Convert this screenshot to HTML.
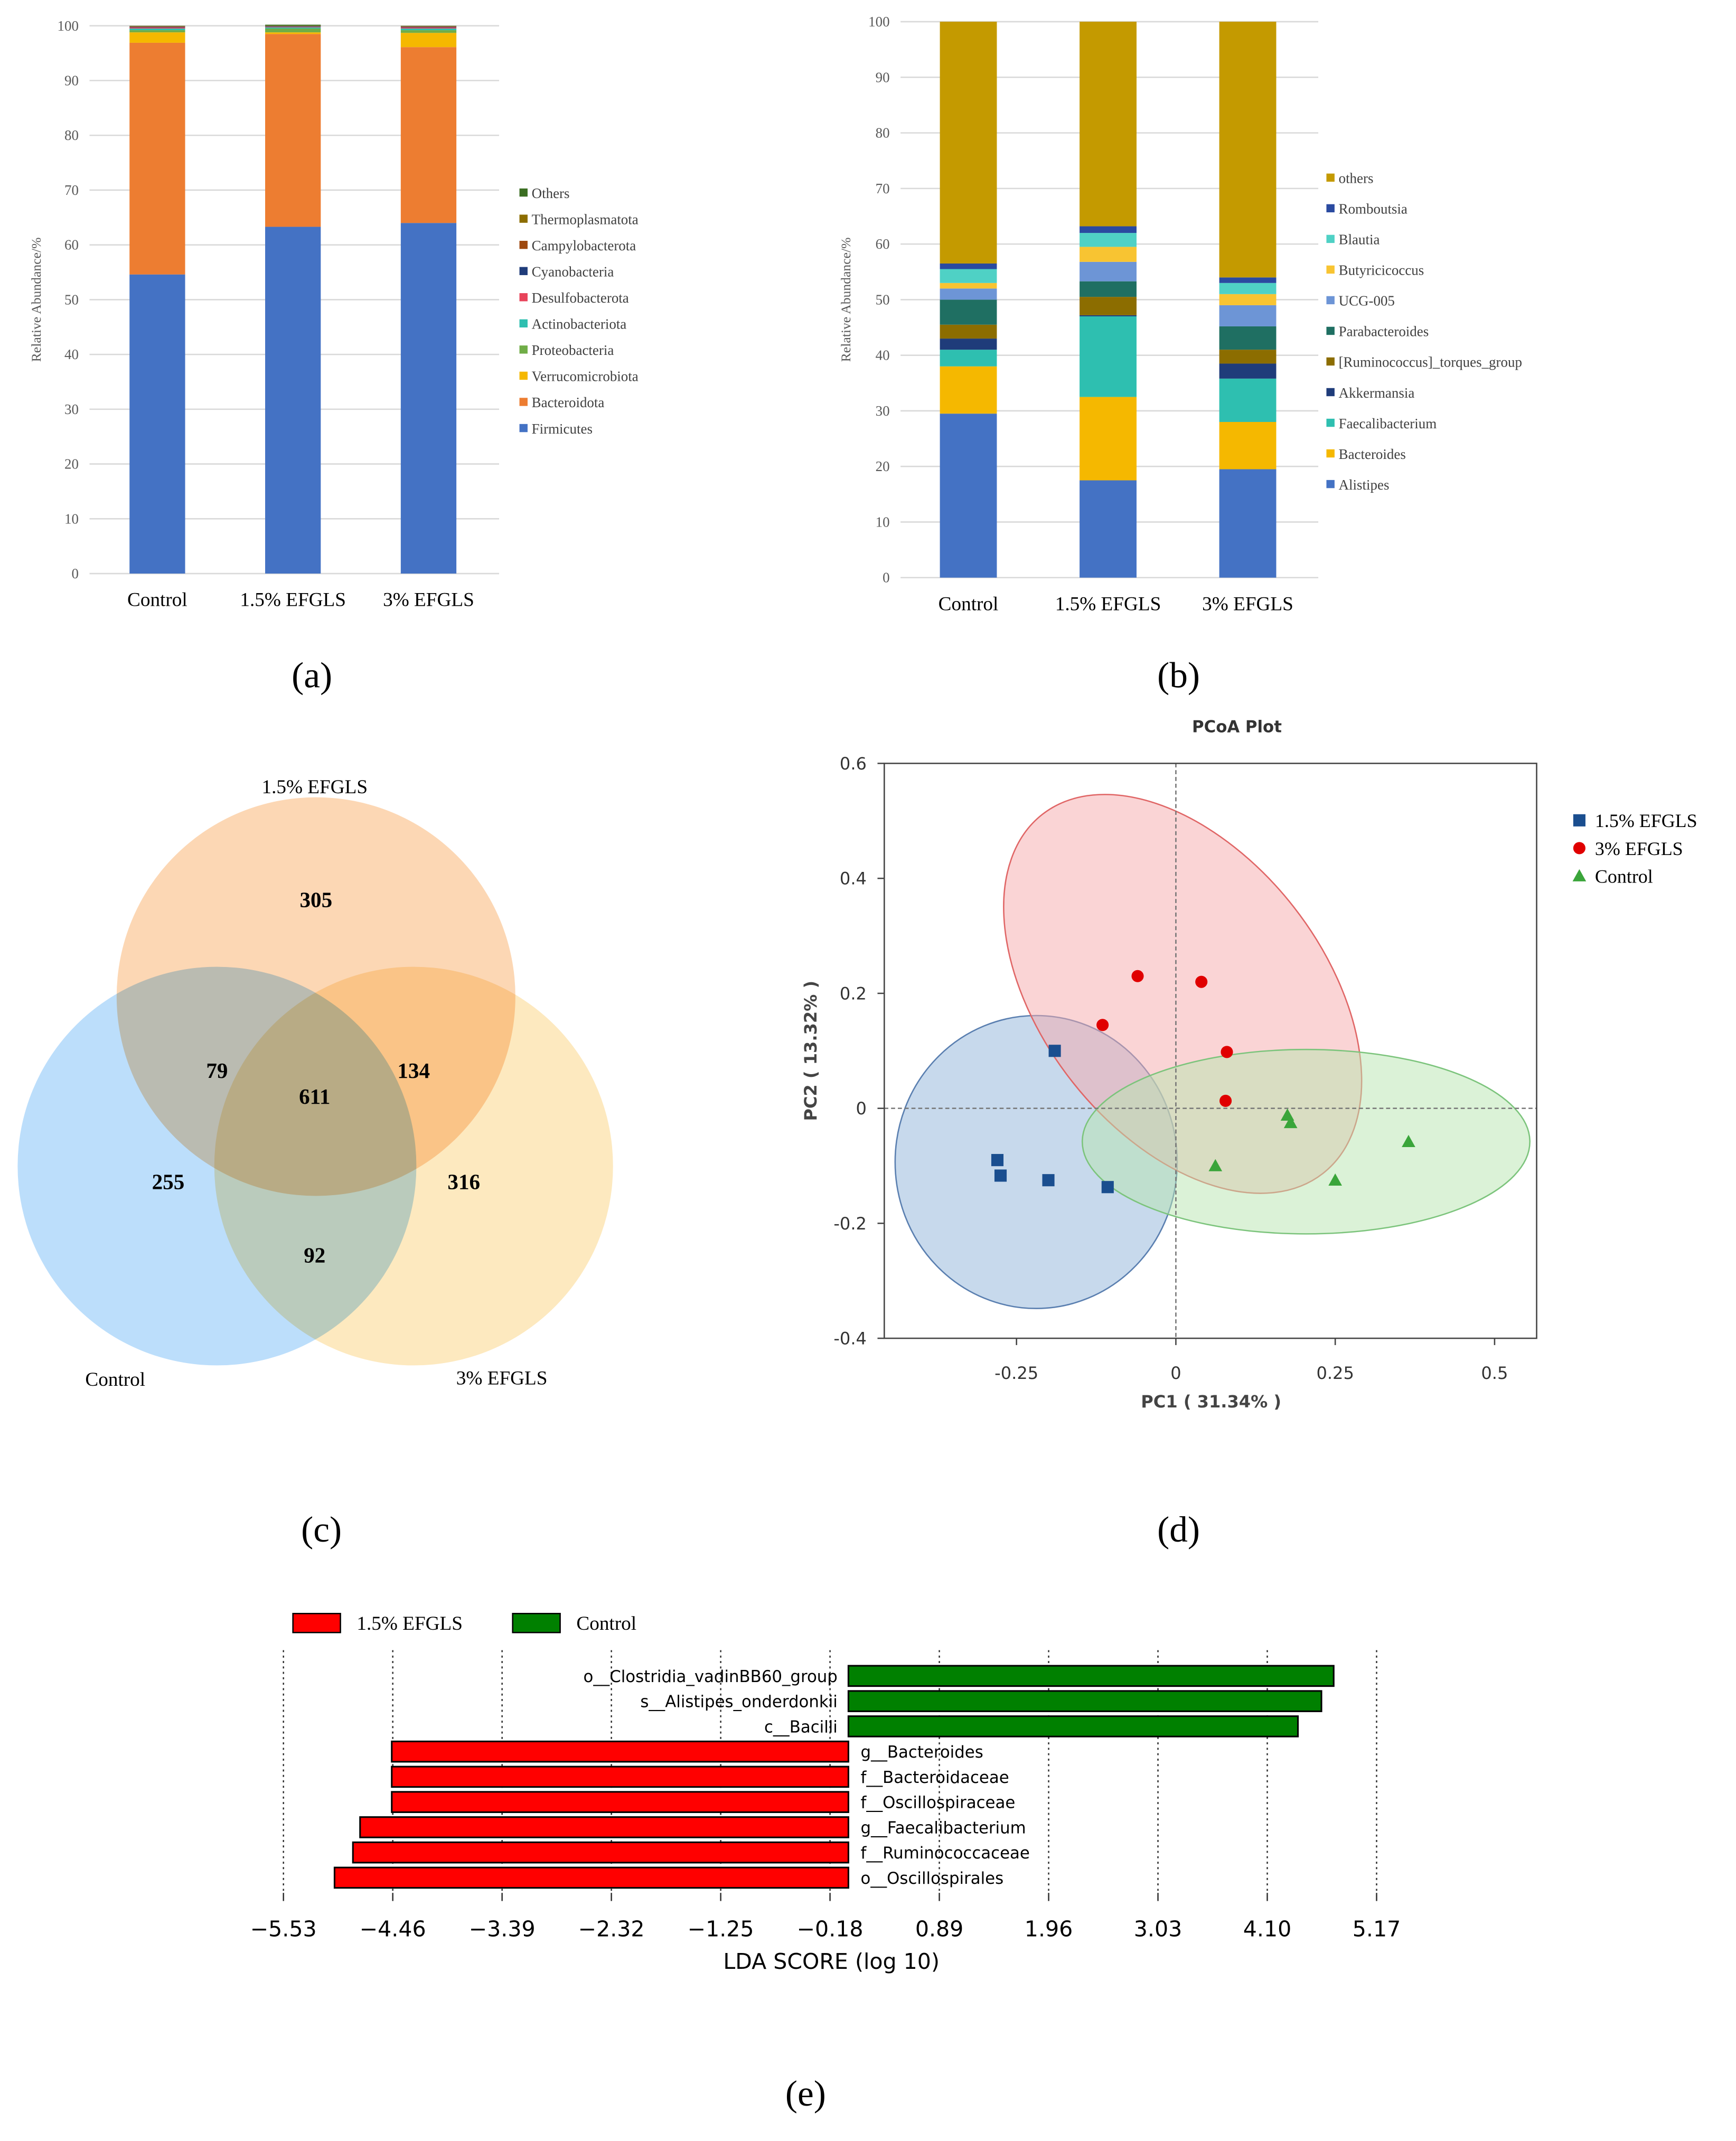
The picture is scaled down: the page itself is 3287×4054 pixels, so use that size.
<!DOCTYPE html>
<html><head><meta charset="utf-8"><style>
html,body{margin:0;padding:0;background:#fff;}
svg{display:block;}
.serif{font-family:"Liberation Serif",serif;}
.sans{font-family:"DejaVu Sans","Liberation Sans",sans-serif;}
</style></head><body>
<svg id="root" xmlns="http://www.w3.org/2000/svg" width="3287" height="4054" viewBox="0 0 1280 1579" preserveAspectRatio="none">
<rect width="1280" height="1579" fill="#fff"/>
<g id="ga"></g>
<g id="gb"></g>
<g id="gc"></g>
<g id="gd"></g>
<g id="ge"></g>
<text class="serif" x="230" y="507" font-size="27" text-anchor="middle">(a)</text>
<text class="serif" x="869" y="507" font-size="27" text-anchor="middle">(b)</text>
<text class="serif" x="237" y="1137" font-size="27" text-anchor="middle">(c)</text>
<text class="serif" x="869" y="1137" font-size="27" text-anchor="middle">(d)</text>
<text class="serif" x="594" y="1553" font-size="27" text-anchor="middle">(e)</text>
</svg>
<script>
const NS="http://www.w3.org/2000/svg";
function mk(p,t,a,txt){const e=document.createElementNS(NS,t);for(const k in a)e.setAttribute(k,a[k]);if(txt!==undefined)e.textContent=txt;p.appendChild(e);return e;}

// ---------- Chart (a) data ----------
const aGroups=["Control","1.5% EFGLS","3% EFGLS"];
const aTaxa=["Firmicutes","Bacteroidota","Verrucomicrobiota","Proteobacteria","Actinobacteriota","Desulfobacterota","Cyanobacteria","Campylobacterota","Thermoplasmatota","Others"];
const aColors=["#4472c4","#ed7d31","#f5b800","#70ad47","#2ebfb0","#e8435a","#1f3c7a","#9e480e","#8c6d00","#3b6e22"];
const aFirm=[54.6,63.3,64.0];
const aBact=[42.3,35.2,32.1];
const aVerr=[1.9,0.3,2.6];
const aProt=[0.4,0.7,0.5];
const aActi=[0.3,0.2,0.3];
const aDesu=[0.2,0.1,0.2];
const aCyan=[0.1,0.1,0.1];
const aCamp=[0.1,0.05,0.1];
const aTher=[0.05,0.05,0.05];
const aOth=[0.05,0.2,0.05];
const aSeries=[aFirm,aBact,aVerr,aProt,aActi,aDesu,aCyan,aCamp,aTher,aOth];
const aTicks=[0,10,20,30,40,50,60,70,80,90,100];

// ---------- Chart (b) data ----------
const bTaxa=["Alistipes","Bacteroides","Faecalibacterium","Akkermansia","[Ruminococcus]_torques_group","Parabacteroides","UCG-005","Butyricicoccus","Blautia","Romboutsia","others"];
const bColors=["#4472c4","#f5b800","#2ebfb0","#1f3c7a","#8c6d00","#1f6f62","#6d95d6","#f8c432","#4fd1c5","#2a4aa0","#c49a00"];
const bAlis=[29.5,17.5,19.5];
const bBacs=[8.5,15.0,8.5];
const bFaec=[3.0,14.5,7.8];
const bAkk=[2.0,0.2,2.7];
const bRum=[2.5,3.3,2.5];
const bPara=[4.5,2.8,4.2];
const bUCG=[2.0,3.5,3.8];
const bButy=[1.0,2.7,2.0];
const bBlau=[2.5,2.5,2.0];
const bRomb=[1.0,1.2,1.0];
const bOth=[43.5,36.8,46.0];
const bSeries=[bAlis,bBacs,bFaec,bAkk,bRum,bPara,bUCG,bButy,bBlau,bRomb,bOth];

function stacked(g,cfg,series,colors,taxa,ticks){
  const y=v=>cfg.y0-(v/100)*(cfg.y0-cfg.y100);
  ticks.forEach(t=>{
    const l=mk(g,'line',{x1:cfg.xl,x2:cfg.xr,y1:y(t),y2:y(t),stroke:'#d9d9d9','stroke-width':1});
    
    const tx=mk(g,'text',{x:cfg.xl-8,y:y(t)+3.5,'font-size':10.5,'text-anchor':'end',fill:'#595959',class:'serif'},String(t));
    
  });
  aGroups.forEach((gr,i)=>{
    let cum=0;const cx=cfg.cx[i];
    series.forEach((s,k)=>{
      const r=mk(g,'rect',{x:cx-cfg.bw/2,y:y(cum+s[i]),width:cfg.bw,height:Math.max(0,y(cum)-y(cum+s[i])),fill:colors[k]});
      
      cum+=s[i];
    });
    const t=mk(g,'text',{x:cx,y:cfg.y0+24,'font-size':14.5,'text-anchor':'middle',class:'serif'},gr);
    
  });
  const yt=mk(g,'text',{x:0,y:0,'font-size':10,'text-anchor':'middle',fill:'#595959',class:'serif',transform:`translate(${cfg.ytx},${(cfg.y0+cfg.y100)/2}) rotate(-90)`},'Relative Abundance/%');
  
  for(let k=taxa.length-1,j=0;k>=0;k--,j++){
    const ly=cfg.ly0+j*cfg.lstep;
    const r=mk(g,'rect',{x:cfg.lx,y:ly-4,width:6,height:6,fill:colors[k]});
    
    const t=mk(g,'text',{x:cfg.lx+9,y:ly+3,'font-size':10.5,fill:'#404040',class:'serif'},taxa[k]);
    
  }
}
stacked(document.getElementById('ga'),{y0:423,y100:19,xl:66,xr:368,cx:[116,216,316],bw:41,ytx:30,lx:383,ly0:143,lstep:19.3},aSeries,aColors,aTaxa,aTicks);
stacked(document.getElementById('gb'),{y0:426,y100:16,xl:664,xr:972,cx:[714,817,920],bw:42,ytx:627,lx:978,ly0:132,lstep:22.6},bSeries,bColors,bTaxa,aTicks);

// ---------- Venn (c) ----------
const vennSets=["1.5% EFGLS","Control","3% EFGLS"];
const vennCounts=[305,79,611,134,255,316,92];
(function(){
  const g=document.getElementById('gc');
  const circ=[[233,735,147,'#fcd7b4'],[160,860,147,'#bcdefb'],[305,860,147,'#fde9bf']];
  circ.forEach((c,i)=>{const e=mk(g,'circle',{cx:c[0],cy:c[1],r:c[2],fill:c[3],style:'mix-blend-mode:multiply'});
    });
  const pos=[[233,669],[160,795],[232,814],[305,795],[124,877],[342,877],[232,931]];
  vennCounts.forEach((v,i)=>{const t=mk(g,'text',{x:pos[i][0],y:pos[i][1],'font-size':16,'font-weight':'bold','text-anchor':'middle',class:'serif'},String(v));
    });
  const lp=[[232,585],[85,1022],[370,1021]];
  vennSets.forEach((s,i)=>{const t=mk(g,'text',{x:lp[i][0],y:lp[i][1],'font-size':14.5,'text-anchor':'middle',class:'serif'},s);
    });
})();

// ---------- PCoA (d) ----------
const pcBlueX=[-0.19,-0.28,-0.275,-0.2,-0.107];
const pcBlueY=[0.1,-0.09,-0.117,-0.125,-0.137];
const pcRedX=[-0.06,0.04,-0.115,0.08,0.078];
const pcRedY=[0.23,0.22,0.145,0.098,0.013];
const pcGreenX=[0.175,0.18,0.062,0.25,0.365];
const pcGreenY=[-0.012,-0.025,-0.1,-0.125,-0.058];
const pcYTicks=[0.6,0.4,0.2,0,-0.2,-0.4];
const pcXTicks=[-0.25,0,0.25,0.5];
(function(){
  const g=document.getElementById('gd');
  const X=v=>867+v*470, Y=v=>817.4-v*424;
  const t0=mk(g,'text',{x:912,y:540,'font-size':12,'font-weight':'bold','text-anchor':'middle',fill:'#333',class:'sans'},'PCoA Plot');
  
  const ells=[[764,857,104,108,0,'#8fb3d9','#5a7fb0'],[872,733,168,104,52,'#f5a9ab','#e06666'],[963,842,165,68,0,'#b8e6b0','#7cc47c']];
  ells.forEach(e=>{const el=mk(g,'ellipse',{cx:e[0],cy:e[1],rx:e[2],ry:e[3],transform:`rotate(${e[4]} ${e[0]} ${e[1]})`,fill:e[5],'fill-opacity':0.5,stroke:e[6],'stroke-width':1});
    });
  mk(g,'line',{x1:652,x2:1133,y1:Y(0),y2:Y(0),stroke:'#777','stroke-dasharray':'3,2'});
  mk(g,'line',{x1:X(0),x2:X(0),y1:563,y2:987,stroke:'#777','stroke-dasharray':'3,2'});
  const box=mk(g,'rect',{x:652,y:563,width:481,height:424,fill:'none',stroke:'#444','stroke-width':1});
  
  pcYTicks.forEach(v=>{mk(g,'line',{x1:647,x2:652,y1:Y(v),y2:Y(v),stroke:'#444'});
    const t=mk(g,'text',{x:639,y:Y(v)+4.5,'font-size':12.5,'text-anchor':'end',fill:'#333',class:'sans'},String(v));
    });
  pcXTicks.forEach(v=>{mk(g,'line',{x1:X(v),x2:X(v),y1:987,y2:992,stroke:'#444'});
    const t=mk(g,'text',{x:X(v),y:1017,'font-size':12.5,'text-anchor':'middle',fill:'#333',class:'sans'},String(v));
    });
  const xt=mk(g,'text',{x:893,y:1038,'font-size':12.5,'font-weight':'bold','text-anchor':'middle',fill:'#444',class:'sans'},'PC1 ( 31.34% )');
  
  const yt=mk(g,'text',{x:0,y:0,'font-size':12.5,'font-weight':'bold','text-anchor':'middle',fill:'#444',class:'sans',transform:'translate(602,775) rotate(-90)'},'PC2 ( 13.32% )');
  
  pcBlueX.forEach((x,i)=>{const p=mk(g,'rect',{x:X(x)-4.5,y:Y(pcBlueY[i])-4.5,width:9,height:9,fill:'#1a4e8f'});
    });
  pcRedX.forEach((x,i)=>{const p=mk(g,'circle',{cx:X(x),cy:Y(pcRedY[i]),r:4.5,fill:'#e00000'});
    });
  pcGreenX.forEach((x,i)=>{const cx=X(x),cy=Y(pcGreenY[i]);const p=mk(g,'polygon',{points:`${cx},${cy-5} ${cx-5},${cy+4} ${cx+5},${cy+4}`,fill:'#3aa53a'});
    });
  const leg=[['1.5% EFGLS','sq','#1a4e8f'],['3% EFGLS','ci','#e00000'],['Control','tr','#3aa53a']];
  leg.forEach((l,i)=>{const cy=605+i*20.5;
    if(l[1]=='sq')mk(g,'rect',{x:1160,y:cy-4.5,width:9,height:9,fill:l[2]});
    else if(l[1]=='ci')mk(g,'circle',{cx:1164.5,cy:cy,r:4.5,fill:l[2]});
    else mk(g,'polygon',{points:`1164.5,${cy-5} 1159.5,${cy+4} 1169.5,${cy+4}`,fill:l[2]});
    const t=mk(g,'text',{x:1176,y:cy+5,'font-size':14,class:'serif'},l[0]);
    });
})();

// ---------- LDA (e) ----------
const ldaLabels=["o__Clostridia_vadinBB60_group","s__Alistipes_onderdonkii","c__Bacilli","g__Bacteroides","f__Bacteroidaceae","f__Oscillospiraceae","g__Faecalibacterium","f__Ruminococcaceae","o__Oscillospirales"];
const ldaScores=[4.75,4.63,4.40,-4.47,-4.47,-4.47,-4.78,-4.85,-5.03];
const ldaTicks=[-5.53,-4.46,-3.39,-2.32,-1.25,-0.18,0.89,1.96,3.03,4.10,5.17];
(function(){
  const g=document.getElementById('ge');
  const X=v=>209+(v+5.53)*(806/10.7);
  ldaTicks.forEach(v=>{const l=mk(g,'line',{x1:X(v),x2:X(v),y1:1217,y2:1396,stroke:'#333','stroke-dasharray':'1.5,2.5','stroke-width':1});
    
    mk(g,'line',{x1:X(v),x2:X(v),y1:1396,y2:1402,stroke:'#333'});
    const t=mk(g,'text',{x:X(v),y:1428,'font-size':16,'text-anchor':'middle',class:'sans'},v.toFixed(2).replace('-','−'));
    });
  const xt=mk(g,'text',{x:613,y:1452,'font-size':16,'text-anchor':'middle',class:'sans'},'LDA SCORE (log 10)');
  
  ldaScores.forEach((s,i)=>{const cy=1236+i*18.6;const x0=X(0),x1=X(s);
    const r=mk(g,'rect',{x:Math.min(x0,x1),y:cy-7.5,width:Math.abs(x1-x0),height:15,fill:s>0?'#008000':'#ff0000',stroke:'#000','stroke-width':1.2});
    
    const t=mk(g,'text',{x:s>0?x0-8:x0+9,y:cy+4.5,'font-size':12,'text-anchor':s>0?'end':'start',class:'sans'},ldaLabels[i]);
    });
  const leg=[['1.5% EFGLS','#ff0000',216],['Control','#008000',378]];
  leg.forEach(l=>{mk(g,'rect',{x:l[2],y:1190,width:35,height:14,fill:l[1],stroke:'#000'});
    const t=mk(g,'text',{x:l[2]+47,y:1202,'font-size':14.5,class:'serif'},l[0]);
    });
})();
</script>
</body></html>
